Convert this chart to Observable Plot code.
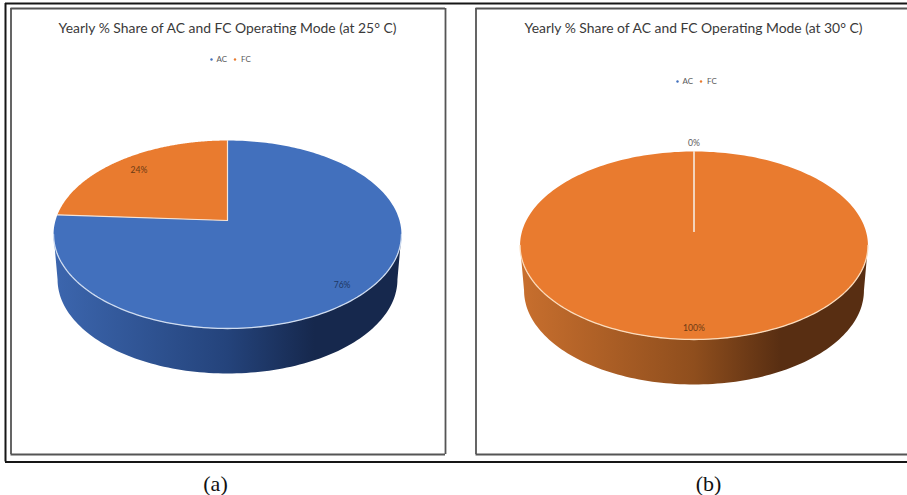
<!DOCTYPE html>
<html>
<head>
<meta charset="utf-8">
<script src="https://cdn.jsdelivr.net/npm/d3@7"></script>
<script src="https://cdn.jsdelivr.net/npm/@observablehq/plot@0.6"></script>
<style>
  html, body { margin: 0; padding: 0; background: #fff; }
  svg { display: block; }
</style>
</head>
<body>
<div id="chart"></div>
<script>
// Yearly operating-mode shares, one panel per set-point temperature.
const modes = ["AC", "FC"];
const shareAt25 = [76, 24];
const shareAt30 = [0, 100];
const titles = [
  "Yearly % Share of AC and FC Operating Mode (at 25° C)",
  "Yearly % Share of AC and FC Operating Mode (at 30° C)"
];
const captions = ["(a)", "(b)"];

const topColors = {AC: "#4270bd", FC: "#e97b2f"};
const wallStops = {
  AC: ["#3c66ae", "#24437b", "#16284d"],
  FC: ["#c86f2e", "#8f4e1d", "#582e12"]
};
const labelInk = {AC: "#1f3864", FC: "#6b3a14"};

// Panel layout: pie hub, projection and text anchors.
const panels = [
  {id: "a", shares: shareAt25, cx: 227, hub: 220, labelR: [0.88, 0.82], legendX: 211, legendY: 59, titleX: 227, captionX: 215},
  {id: "b", shares: shareAt30, cx: 693.5, hub: 231, labelR: [1.117, 0.912], legendX: 677, legendY: 81, titleX: 693, captionX: 708}
];

// A tilted disc seen in perspective: the far edge is foreshortened.
const spanX = 172, spanY = 91.9, tilt = 0.149, depth = 45, shrink = 0.977;
const project = (p, theta, r = 1, drop = 0) => {
  const u = r * Math.sin(theta), v = r * Math.cos(theta), s = 1 + tilt * v;
  const k = drop ? shrink : 1;
  return {x: p.cx + k * spanX * u / s, y: p.hub - spanY * v / s + drop};
};
const wallStart = Math.acos(-tilt), wallEnd = 2 * Math.PI - wallStart;

const steps = (a0, a1, n = 120) => d3.range(n + 1).map(i => a0 + (a1 - a0) * i / n);

const sliceRows = [], edgeRows = [], wallRows = [], rimRows = [], labelRows = [], legendRows = [];

panels.forEach(p => {
  const arcs = d3.pie().sort(null).value(d => d)(p.shares);
  arcs.forEach((arc, i) => {
    const mode = modes[i];
    if (arc.endAngle > arc.startAngle) {
      sliceRows.push({
        fill: topColors[mode],
        pts: [project(p, 0, 0), ...steps(arc.startAngle, arc.endAngle, 240).map(t => project(p, t))]
      });
    }
    // Radial seam where each slice starts.
    edgeRows.push({pts: [project(p, 0, 0), project(p, arc.startAngle)]});

    const a0 = Math.max(arc.startAngle, wallStart), a1 = Math.min(arc.endAngle, wallEnd);
    if (a1 > a0) {
      const top = steps(a0, a1).map(t => project(p, t));
      const bottom = steps(a1, a0).map(t => project(p, t, 1, depth));
      wallRows.push({fill: `url(#wall-${mode})`, pts: [...top, ...bottom]});
      rimRows.push({stroke: mode === "AC" ? "#cfdcf0" : "#fbdcbd", pts: top});
    }
    const mid = (arc.startAngle + arc.endAngle) / 2;
    labelRows.push({
      ...project(p, mid, p.labelR[i]),
      text: `${p.shares[i]}%`,
      ink: p.shares[i] === 0 ? "#595959" : labelInk[mode]
    });
    const entry = p.legendX + i * 23.5;
    legendRows.push({x: entry, y: p.legendY, fill: topColors[mode], tx: entry + (i ? 6 : 5), text: mode});
  });
});

// Outer rule around both panels and the open-ended inner chart boxes.
const outerH = [{y: 3}, {y: 461.5}];
const outerV = [{x: 5}];
const boxH = [{y: 8, x1: 10.5, x2: 445}, {y: 454, x1: 10.5, x2: 445}, {y: 8, x1: 475.5, x2: 907}, {y: 454, x1: 475.5, x2: 907}];
const boxV = [{x: 10.5}, {x: 445}, {x: 475.5}];

// Gradient definitions for the shaded pie walls.
function wallGradients(index, scales, values, dimensions, context) {
  const defs = context.document.createElementNS("http://www.w3.org/2000/svg", "defs");
  defs.innerHTML = Object.entries(wallStops).map(([mode, [c0, c1, c2]]) =>
    `<linearGradient id="wall-${mode}" x1="0" x2="1" y1="0" y2="0">
       <stop offset="0" stop-color="${c0}"/>
       <stop offset="0.5" stop-color="${c1}"/>
       <stop offset="0.75" stop-color="${c2}"/>
       <stop offset="1" stop-color="${c2}"/>
     </linearGradient>`).join("");
  return defs;
}

const chart = Plot.plot({
  width: 907,
  height: 495,
  margin: 0,
  x: {domain: [0, 907], range: [0, 907], axis: null},
  y: {domain: [0, 495], range: [0, 495], axis: null},
  style: {background: "#fff"},
  marks: [
    wallGradients,
    Plot.ruleY(outerH, {y: "y", x1: () => 5, x2: () => 907, stroke: "#161616", strokeWidth: 2}),
    Plot.ruleX(outerV, {x: "x", y1: () => 3, y2: () => 461.5, stroke: "#161616", strokeWidth: 2}),
    Plot.ruleY(boxH, {y: "y", x1: "x1", x2: "x2", stroke: "#555", strokeWidth: 1.8}),
    Plot.ruleX(boxV, {x: "x", y1: () => 8, y2: () => 454, stroke: "#555", strokeWidth: 1.8}),
    ...wallRows.map(r => Plot.line(r.pts, {x: "x", y: "y", fill: r.fill, stroke: "none", curve: "linear-closed"})),
    ...sliceRows.map(r => Plot.line(r.pts, {x: "x", y: "y", fill: r.fill, stroke: "none", curve: "linear-closed"})),
    ...rimRows.map(r => Plot.line(r.pts, {x: "x", y: "y", stroke: r.stroke, strokeWidth: 1.3})),
    ...edgeRows.map(r => Plot.line(r.pts, {x: "x", y: "y", stroke: "#f6e4d6", strokeWidth: 1.2})),
    Plot.text(panels.map((p, i) => ({x: p.titleX, text: titles[i]})), {
      x: "x", y: () => 28, text: "text", fontSize: 13.9, fontFamily: "Lato", fill: "#3a3a3a"
    }),
    Plot.dot(legendRows, {x: "x", y: "y", r: 1.2, fill: "fill", stroke: "none"}),
    Plot.text(legendRows, {x: "tx", y: "y", text: "text", textAnchor: "start", fontSize: 8, fontFamily: "Lato", fill: "#595959"}),
    Plot.text(labelRows, {x: "x", y: "y", text: "text", fill: "ink", fontSize: 8.6, fontFamily: "Lato"}),
    Plot.text(panels.map((p, i) => ({x: p.captionX, text: captions[i]})), {
      x: "x", y: () => 483, text: "text", fontSize: 22, fontFamily: "Liberation Serif", fill: "#111"
    })
  ]
});

document.getElementById("chart").append(chart);
</script>
</body>
</html>
